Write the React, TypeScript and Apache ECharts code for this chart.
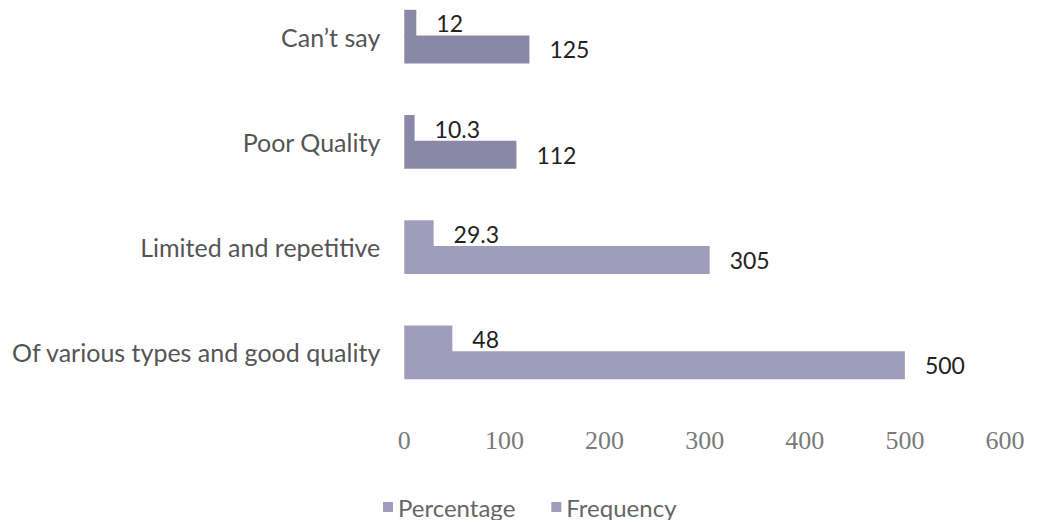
import React, { useEffect, useRef } from "react";
import * as echarts from "echarts";

const categories = [
  "Of various types and good quality",
  "Limited and repetitive",
  "Poor Quality",
  "Can\u2019t say",
];
const percentage = [48, 29.3, 10.3, 12];
const frequency = [500, 305, 112, 125];
const xTicks = [0, 100, 200, 300, 400, 500, 600];

export default function App() {
  const ref = useRef<HTMLDivElement>(null);
  useEffect(() => {
    if (!ref.current) return;
    const chart = echarts.init(ref.current, undefined, { renderer: "svg" });
    const font = "Lato";
    const light = "#9f9cbc";
    const dark = "#8b87a7";
    const tint = (arr: number[]) =>
      arr.map((v, i) => (i >= 2 ? { value: v, itemStyle: { color: dark } } : v));
    const valueLabel = {
      show: true,
      position: "right",
      distance: 20,
      fontSize: 23,
      color: "#222",
      fontFamily: font,
    };
    chart.setOption({
      animation: false,
      backgroundColor: "#ffffff",
      textStyle: { fontFamily: font },
      legend: {
        data: ["Percentage", "Frequency"],
        top: 511,
        left: 375,
        padding: 0,
        itemWidth: 10,
        itemHeight: 10,
        icon: "rect",
        itemGap: 36,
        textStyle: {
          fontSize: 24,
          lineHeight: 22,
          color: "#666",
          fontFamily: font,
        },
      },
      grid: { left: 395, right: 30, top: 0, height: 421 },
      xAxis: {
        type: "value",
        min: xTicks[0],
        max: xTicks[xTicks.length - 1],
        interval: 100,
        axisLine: { show: false },
        axisTick: { show: false },
        splitLine: { show: false },
        axisLabel: {
          fontSize: 26,
          color: "#7a7a7a",
          margin: 22,
          fontFamily: "Liberation Serif",
        },
      },
      yAxis: {
        type: "category",
        data: categories,
        axisLine: { show: false },
        axisTick: { show: false },
        axisLabel: { fontSize: 25, color: "#555", margin: 24, fontFamily: font },
      },
      series: [
        {
          name: "Percentage",
          type: "bar",
          data: tint(percentage),
          barWidth: 27,
          barGap: "-5%",
          itemStyle: { color: light },
          label: valueLabel,
        },
        {
          name: "Frequency",
          type: "bar",
          data: tint(frequency),
          barWidth: 28,
          itemStyle: { color: light },
          label: valueLabel,
        },
      ],
    });
    return () => chart.dispose();
  }, []);
  return (
    <div
      ref={ref}
      style={{ width: 1027, height: 536, marginTop: -24 }}
    />
  );
}
